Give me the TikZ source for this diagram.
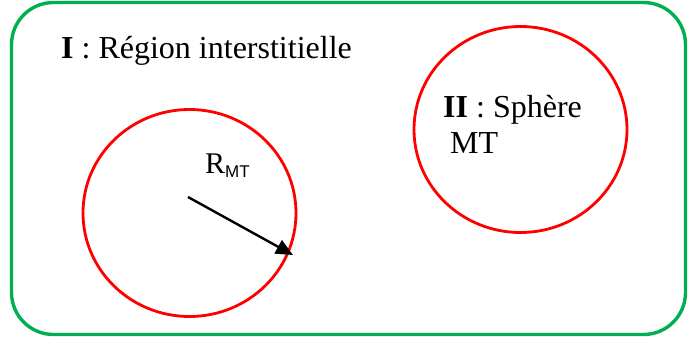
\documentclass[tikz,border=0pt]{standalone}
\usepackage{fontspec}
\setmainfont{Liberation Serif}
\setsansfont{Liberation Sans}
\usetikzlibrary{arrows.meta}
\definecolor{boxgreen}{RGB}{0,176,80}
\definecolor{circred}{RGB}{255,0,0}
\tikzset{
  regionbox/.style={draw=boxgreen, line width=3.4pt, rounded corners=42pt},
  sphere/.style={draw=circred, line width=2.8pt},
  lbl/.style={anchor=base west, inner sep=0pt, font=\fontsize{32}{36}\selectfont},
  radius arrow/.style={draw=black, line width=2.4pt, -{Triangle[length=17pt,width=15pt]}}
}
\begin{document}
\begin{tikzpicture}[x=1pt,y=-1pt]
\useasboundingbox (0,0) rectangle (688,340);
\draw[regionbox] (11.5,2.5) rectangle (685.5,334.5);
\draw[sphere] (189.5,213) ellipse [x radius=106.5, y radius=103.5];
\draw[sphere] (520.5,129.5) ellipse [x radius=106.5, y radius=103];
\node[lbl] (t1) at (61,58) {\textbf{I} : Région interstitielle};
\node[lbl] (t2) at (443,117) {\textbf{II} : Sphère};
\node[lbl] (t3) at (450,153) {MT};
\node[anchor=base west, inner sep=0pt] (r) at (205,173) {\fontsize{30}{34}\selectfont R\raisebox{-4pt}{\sffamily\fontsize{17}{19}\selectfont MT}};
\coordinate (a0) at (188,197);
\coordinate (a1) at (293,255);
\draw[radius arrow] (a0) -- (a1);
\end{tikzpicture}
\end{document}
